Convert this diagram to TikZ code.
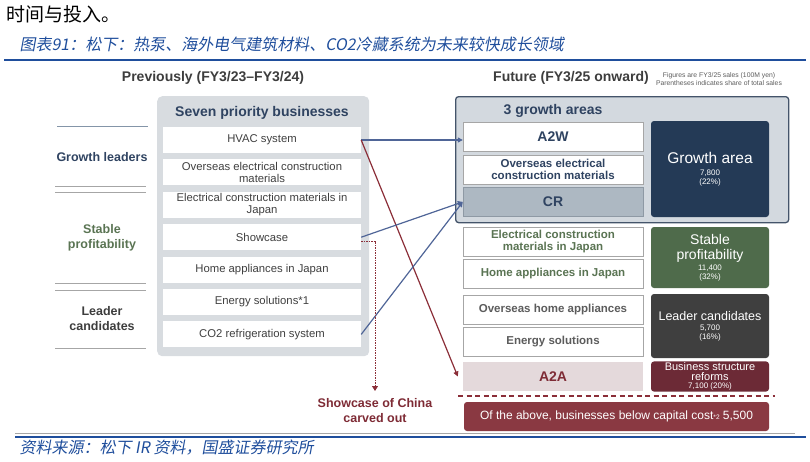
\documentclass[tikz,border=0pt]{standalone}
\usepackage{fontspec}
\setmainfont{Liberation Sans}
\newfontfamily\cjkfont{Noto Sans CJK SC}
\newfontfamily\cjkslant{Noto Sans CJK SC}[FakeSlant=0.18]
\usepackage{tikz}
\usetikzlibrary{arrows.meta, positioning}

\definecolor{panelgray}{HTML}{D8DCE0}
\definecolor{framefill}{HTML}{D3D9DF}
\definecolor{framecol}{HTML}{44546A}
\definecolor{crfill}{HTML}{ADB8C2}
\definecolor{crline}{HTML}{8E99A4}
\definecolor{growthfill}{HTML}{243A56}
\definecolor{stablefill}{HTML}{4F6B4B}
\definecolor{leaderfill}{HTML}{3F3F3F}
\definecolor{reformfill}{HTML}{6C2A36}
\definecolor{bottomfill}{HTML}{8A3942}
\definecolor{a2afill}{HTML}{E4D9DB}
\definecolor{darkblue}{HTML}{2F4361}
\definecolor{greentext}{HTML}{5A7453}
\definecolor{darktext}{HTML}{3D3D3D}
\definecolor{graytext}{HTML}{5C5C5C}
\definecolor{redtext}{HTML}{7E2B35}
\definecolor{arrowblue}{HTML}{4F6597}
\definecolor{arrowred}{HTML}{8B2E38}
\definecolor{capblue}{HTML}{1F4E9C}
\definecolor{linegray}{HTML}{A6A6A6}
\definecolor{bluegray}{HTML}{8495A8}
\definecolor{textgray}{HTML}{404040}

\begin{document}
\begin{tikzpicture}[x=1pt, y=-1pt, node distance=32.4pt, >={Triangle[width=5pt, length=5pt]}]
        % Estilos para bloques, etiquetas y flechas
        \tikzstyle{panel} = [fill=panelgray, rounded corners=5pt, inner sep=0pt]
        \tikzstyle{frame} = [draw=framecol, fill=framefill, line width=1.3pt, rounded corners=3pt, inner sep=0pt]
        \tikzstyle{item} = [fill=white, minimum width=198pt, minimum height=26pt, inner sep=1pt, align=center, text=textgray, font=\fontsize{11.3}{12.4}\selectfont]
        \tikzstyle{area} = [draw=linegray, fill=white, minimum width=180pt, minimum height=29pt, inner sep=1pt, align=center, font=\bfseries\fontsize{11.5}{12.5}\selectfont]
        \tikzstyle{tile} = [rounded corners=3pt, minimum width=118pt, text=white, align=center, inner sep=1pt, font=\fontsize{8}{9}\selectfont, execute at begin node={\lineskiplimit=-20pt}]
        \tikzstyle{heading} = [font=\bfseries\fontsize{14}{16}\selectfont]
        \tikzstyle{sidelabel} = [font=\bfseries\fontsize{12.5}{15}\selectfont, align=center]
        \tikzstyle{sepline} = [draw=linegray, line width=1pt]
        \tikzstyle{bluearrow} = [draw=arrowblue, line width=1.2pt, ->]
        \tikzstyle{redarrow} = [draw=arrowred, line width=1.2pt, ->]
        \tikzstyle{dottedred} = [draw=arrowred, line width=0.8pt, dash pattern=on 1.5pt off 1pt, -{Triangle[width=6pt, length=5pt]}]

        \useasboundingbox (0,0) rectangle (810,461);

        % Cabecera
        \node [anchor=west, font=\cjkfont\fontsize{19}{19}\selectfont] (intro) at (3,14) {时间与投入。};
        \node [anchor=west, text=capblue, font=\cjkslant\fontsize{16}{17}\selectfont] (caption) at (16,44) {图表91：松下：热泵、海外电气建筑材料、CO2冷藏系统为未来较快成长领域};
        \draw [capblue, line width=1.5pt] (4,60) -- (806,60);
        \node [heading, text=darktext] (prevhead) at (213,78) {Previously (FY3/23--FY3/24)};
        \node [heading, text=darktext] (futhead) at (571,78) {Future (FY3/25 onward)};
        \node [font=\fontsize{6.8}{8.5}\selectfont, text=graytext, align=center] (note) at (719,79) {Figures are FY3/25 sales (100M yen)\\Parentheses indicates share of total sales};

        % Nodes (antes)
        \node [panel, anchor=north west, minimum width=212pt, minimum height=260pt] (leftpanel) at (157,96) {};
        \node [heading, text=darkblue] (seven) at (262,113) {Seven priority businesses};
        \node [item] (hvac) at (262,140) {HVAC system};
        \node [item, on grid, below=of hvac] (oseas) {Overseas electrical construction\\materials};
        \node [item, on grid, below=of oseas] (ecjapan) {Electrical construction materials in\\Japan};
        \node [item, on grid, below=of ecjapan] (showcase) {Showcase};
        \node [item, on grid, below=of showcase] (homejp) {Home appliances in Japan};
        \node [item, on grid, below=of homejp] (energy) {Energy solutions*1};
        \node [item, on grid, below=of energy] (co2) {CO2 refrigeration system};

        \node [sidelabel, text=darkblue] (growthlab) at (102,157) {Growth leaders};
        \node [sidelabel, text=greentext] (stablelab) at (102,238) {Stable\\profitability};
        \node [sidelabel, text=darktext] (leaderlab) at (102,319) {Leader\\candidates};
        \draw [sepline, draw=bluegray] (57,126) -- (148,126);
        \draw [sepline] (55,186) -- (146,186);
        \draw [sepline] (55,192) -- (146,192);
        \draw [sepline] (55,283) -- (146,283);
        \draw [sepline] (55,290) -- (146,290);
        \draw [sepline] (55,348) -- (146,348);

        % Nodes (futuro)
        \node [frame, anchor=north west, minimum width=333pt, minimum height=126pt] (growthframe) at (455,96) {};
        \node [heading, text=darkblue] (threeareas) at (553,111) {3 growth areas};
        \node [area, text=darkblue, font=\bfseries\fontsize{14}{16}\selectfont] (a2w) at (553,136.5) {A2W};
        \node [area, text=darkblue, on grid, below=32.7pt of a2w] (oseasfut) {Overseas electrical\\construction materials};
        \node [area, fill=crfill, draw=crline, text=darkblue, font=\bfseries\fontsize{14}{16}\selectfont, on grid, below=32.7pt of oseasfut] (cr) {CR};
        \node [tile, fill=growthfill, minimum height=96pt] (growtharea) at (710,169) {{\fontsize{15.5}{17}\selectfont Growth area}\\[3pt]7,800\\(22\%)};

        \node [area, text=greentext] (ecjapanfut) at (553,241.5) {Electrical construction\\materials in Japan};
        \node [area, text=greentext, on grid, below=32.5pt of ecjapanfut] (homejpfut) {Home appliances in Japan};
        \node [area, text=graytext] (oseashome) at (553,309.5) {Overseas home appliances};
        \node [area, text=graytext, on grid, below=32.5pt of oseashome] (energyfut) {Energy solutions};
        \node [area, fill=a2afill, draw=none, text=redtext, font=\bfseries\fontsize{14}{16}\selectfont, on grid, below=34.5pt of energyfut] (a2a) {A2A};

        \node [tile, fill=stablefill, minimum height=61pt] (stable) at (710,257.5) {{\fontsize{14}{15}\selectfont Stable}\\[6pt]{\fontsize{14}{15}\selectfont profitability}\\[1.5pt]11,400\\(32\%)};
        \node [tile, fill=leaderfill, minimum height=64pt] (leader) at (710,326) {{\fontsize{12.5}{14}\selectfont Leader candidates}\\[1pt]5,700\\(16\%)};
        \node [tile, fill=reformfill, minimum height=29pt] (reform) at (710,376.5) {{\fontsize{11}{11}\selectfont Business structure}\\[1pt]{\fontsize{11}{11}\selectfont reforms}\\[-0.5pt]7,100 (20\%)};

        \draw [arrowred, line width=1.6pt, dash pattern=on 5pt off 3.5pt] (458,396) -- (775,396);
        \node [tile, fill=bottomfill, minimum width=305pt, minimum height=29pt, font=\fontsize{12}{14}\selectfont] (belowcost) at (616.5,416.5) {Of the above, businesses below capital cost\raisebox{0pt}{\fontsize{6.5}{7}\selectfont *2} 5,500};

        \coordinate (carvedtip) at (375,391);
        \node [font=\bfseries\fontsize{12.5}{15}\selectfont, text=redtext, align=center] (carved) at (375,410.5) {Showcase of China\\carved out};

        % Lines
        \draw [bluearrow] (hvac.east) -- (hvac.east -| a2w.west);
        \draw [redarrow] (hvac.east) -- ([xshift=-5pt]a2a.west);
        \draw [bluearrow] (showcase.east) -- (cr.west);
        \draw [bluearrow] (co2.east) -- (cr.west);
        \draw [dottedred] ([yshift=-4pt]showcase.east) -| (carvedtip);

        % Pie
        \draw [linegray, line width=0.8pt] (15,433) -- (795,433);
        \draw [capblue, line width=1.5pt] (15,437) -- (806,437);
        \node [anchor=west, text=capblue, font=\cjkslant\fontsize{16}{17}\selectfont] (source) at (16,448) {资料来源：松下 IR 资料，国盛证券研究所};

      \end{tikzpicture}
\end{document}
